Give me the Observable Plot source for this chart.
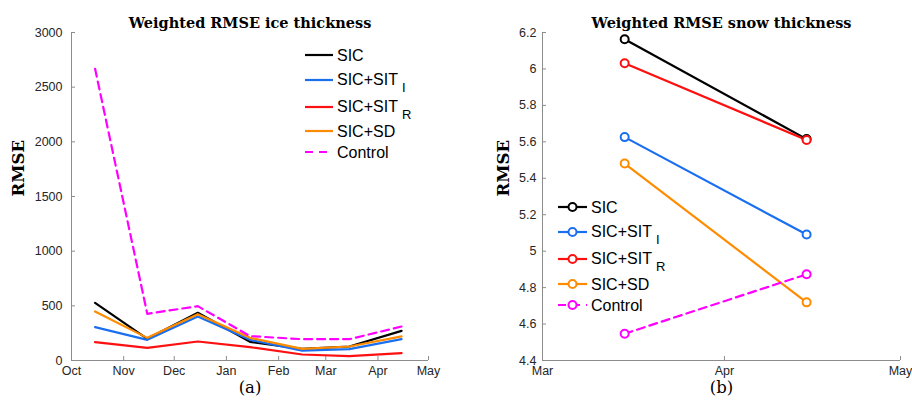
<!DOCTYPE html>
<html><head><meta charset="utf-8">
<script src="https://cdn.jsdelivr.net/npm/d3@7"></script>
<script src="https://cdn.jsdelivr.net/npm/@observablehq/plot@0.6"></script>
<style>
body{margin:0;background:#fff;}
#wrap{position:relative;width:912px;height:403px;overflow:hidden;background:#fff;}
#wrap > svg{position:absolute;top:0;}
</style></head><body><div id="wrap"></div>
<script>
// ---- data ----
const seriesNames = ["SIC", "SIC+SIT_I", "SIC+SIT_R", "SIC+SD", "Control"];
const seriesColors = ["#000000", "#1a6ff0", "#ff1010", "#ff8c00", "#ff00ff"];

const iceDates = ["2018-10-15", "2018-11-15", "2018-12-15", "2019-01-15", "2019-02-15", "2019-03-15", "2019-04-15"];
const iceSIC     = [527, 198, 436, 171, 107, 128, 271];
const iceSIT_I   = [305, 189, 402, 189,  91, 104, 195];
const iceSIT_R   = [168, 116, 174, 122,  55,  40,  67];
const iceSD      = [448, 207, 424, 207, 107, 128, 220];
const iceControl = [2668, 427, 497, 223, 195, 195, 311];
const iceYTicks = [0, 500, 1000, 1500, 2000, 2500, 3000];
const iceXTicks = ["2018-10-01", "2018-11-01", "2018-12-01", "2019-01-01", "2019-02-01", "2019-03-01", "2019-04-01", "2019-05-01"];

const snowDates = ["2019-03-15", "2019-04-15"];
const snowSIC     = [6.163, 5.615];
const snowSIT_I   = [5.626, 5.091];
const snowSIT_R   = [6.031, 5.610];
const snowSD      = [5.481, 4.719];
const snowControl = [4.547, 4.873];
const snowYTicks = [4.4, 4.6, 4.8, 5.0, 5.2, 5.4, 5.6, 5.8, 6.0, 6.2];
const snowXTicks = ["2019-03-01", "2019-04-01", "2019-05-01"];

// ---- build tables ----
function table(dates, lists) {
  const rows = [];
  lists.forEach((vals, k) => dates.forEach((d, i) => rows.push({date: new Date(d), value: vals[i], series: seriesNames[k]})));
  return rows;
}
const iceRows = table(iceDates, [iceSIC, iceSIT_I, iceSIT_R, iceSD, iceControl]);
const snowRows = table(snowDates, [snowSIC, snowSIT_I, snowSIT_R, snowSD, snowControl]);

const tickFont = "'Liberation Sans', Arial, Helvetica, sans-serif";
const serif = "'DejaVu Serif', serif";
const axisGray = "#8c8c8c";

function panel({rows, xTicks, yTicks, yFmt, marginLeft, marginRight, title, sub, ylabelDx, yPad, dots}) {
  const xd = [new Date(xTicks[0]), new Date(xTicks[xTicks.length - 1])];
  const solid = rows.filter(r => r.series !== "Control");
  const dashed = rows.filter(r => r.series === "Control");
  const marks = [
    Plot.ruleY([yTicks[0]], {stroke: axisGray, strokeWidth: 1}),
    Plot.ruleX([xd[0]], {stroke: axisGray, strokeWidth: 1}),
    Plot.axisY({ticks: yTicks, tickFormat: yFmt, tickSize: -4, tickPadding: yPad + 4, stroke: axisGray, fill: "#262626", label: null}),
    Plot.axisX({ticks: xTicks.map(d => new Date(d)), tickFormat: d3.utcFormat("%b"), tickSize: -4, tickPadding: 10, stroke: axisGray, fill: "#262626", label: null}),
    Plot.line(solid, {x: "date", y: "value", z: "series", stroke: "series", strokeWidth: 2.2}),
    Plot.line(dashed, {x: "date", y: "value", z: "series", stroke: "series", strokeWidth: 2.2, strokeDasharray: "8,5"}),
    Plot.text([title], {frameAnchor: "top", dy: -15, fontFamily: serif, fontWeight: "bold", fontSize: 14.5, fill: "#000"}),
    Plot.text([sub], {frameAnchor: "bottom", dy: 32, fontFamily: serif, fontSize: 16.5, fill: "#000"}),
    Plot.text(["RMSE"], {frameAnchor: "left", dx: ylabelDx, rotate: -90, fontFamily: serif, fontWeight: "bold", fontSize: 16.5, fill: "#000"})
  ];
  if (dots) marks.push(Plot.dot(rows, {x: "date", y: "value", stroke: "series", r: 4, strokeWidth: 2, fill: "white"}));
  return Plot.plot({
    width: 456, height: 403,
    marginLeft, marginRight, marginTop: 32, marginBottom: 43,
    x: {type: "utc", domain: xd},
    y: {domain: [yTicks[0], yTicks[yTicks.length - 1]]},
    color: {domain: seriesNames, range: seriesColors},
    style: {fontFamily: tickFont, fontSize: "12.5px", color: "#262626", background: "white", overflow: "visible"},
    marks
  });
}

const wrap = document.getElementById("wrap");
const left = panel({rows: iceRows, xTicks: iceXTicks, yTicks: iceYTicks, yFmt: d => String(d),
  marginLeft: 71, marginRight: 28, title: "Weighted RMSE ice thickness", sub: "(a)", ylabelDx: -53, yPad: 9, dots: false});
left.style.left = "0px";
const right = panel({rows: snowRows, xTicks: snowXTicks, yTicks: snowYTicks, yFmt: d => String(+d.toFixed(1)),
  marginLeft: 86, marginRight: 12, title: "Weighted RMSE snow thickness", sub: "(b)", ylabelDx: -39, yPad: 6, dots: true});
right.style.left = "456px";
wrap.appendChild(left);
wrap.appendChild(right);

// ---- legends ----
const ov = d3.select(wrap).append("svg").attr("width", 912).attr("height", 403)
  .style("left", "0px").style("pointer-events", "none");

function legend(x0, x1, tx, ys, withDots) {
  seriesNames.forEach((name, k) => {
    const g = ov.append("g");
    const y = ys[k];
    g.append("line").attr("x1", x0).attr("x2", x1).attr("y1", y).attr("y2", y)
      .attr("stroke", seriesColors[k]).attr("stroke-width", 2.2)
      .attr("stroke-dasharray", name === "Control" ? "8,6" : null);
    if (withDots) g.append("circle").attr("cx", (x0 + x1) / 2).attr("cy", y).attr("r", 4)
      .attr("fill", "white").attr("stroke", seriesColors[k]).attr("stroke-width", 2);
    const parts = name.split("_");
    const t = g.append("text").attr("x", tx).attr("y", y).attr("dy", "0.35em")
      .attr("font-family", tickFont).attr("font-size", 16).attr("fill", "#000");
    if (parts.length > 1) {
      t.attr("dy", null).attr("y", y + 4.5);
      t.append("tspan").text(parts[0]);
      t.append("tspan").attr("dx", 4).attr("dy", 7).attr("font-size", 13).text(parts[1]);
    } else {
      t.text(name);
    }
  });
}
legend(305, 333, 337, [55, 80, 107, 131, 152], false);
legend(558, 587, 591, [207, 232, 259, 284, 305], true);
</script>
</body></html>
